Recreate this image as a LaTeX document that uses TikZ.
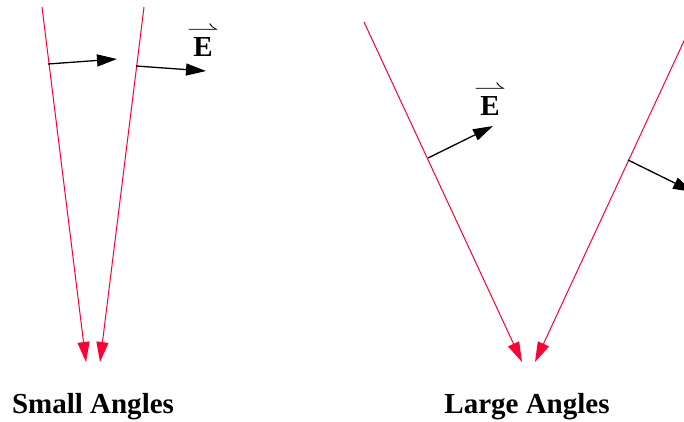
\documentclass[tikz,border=0pt]{standalone}
\usepackage{fontspec}
\setmainfont{Liberation Serif}
\usetikzlibrary{arrows.meta}
\definecolor{beamred}{RGB}{255,0,51}
\newcommand{\fieldE}{$\stackrel{\scalebox{1.6}[1.1]{$\scriptstyle\rightharpoonup$}}{\mbox{\bfseries E}}$}

\begin{document}
\begin{tikzpicture}[x=1pt, y=-1pt,
  ray/.style={beamred, line width=1pt, -{Triangle[length=20pt, width=12pt]}},
  field/.style={black, line width=1.3pt, -{Triangle[length=20pt, width=12pt]}},
  label/.style={font=\fontsize{29}{32}\selectfont\bfseries, anchor=base, inner sep=0pt},
]
\useasboundingbox (0,0) rectangle (684,421);
\clip (0,0) rectangle (684,421);

% === SMALL ANGLES ===
\coordinate (s1a) at (42,7);
\coordinate (s1b) at (86,362);
\coordinate (s2a) at (144,7);
\coordinate (s2b) at (100,362);
\draw[ray] (s1a) -- (s1b);
\draw[ray] (s2a) -- (s2b);

\coordinate (e1a) at (48,64);
\coordinate (e1b) at (117,59);
\coordinate (e2a) at (136,66);
\coordinate (e2b) at (206,71);
\draw[field] (e1a) -- (e1b);
\draw[field] (e2a) -- (e2b);

\node[label] (Esmall) at (203,56) {\fieldE};
\node[label] (small) at (93,413) {Small Angles};

% === LARGE ANGLES ===
\coordinate (l1a) at (364,22);
\coordinate (l1b) at (522,362);
\coordinate (l2a) at (703,0);
\coordinate (l2b) at (535,362);
\draw[ray] (l1a) -- (l1b);
\draw[ray] (l2a) -- (l2b);

\coordinate (f1a) at (428,158);
\coordinate (f1b) at (493,126);
\coordinate (f2a) at (628,160);
\coordinate (f2b) at (693,192);
\draw[field] (f1a) -- (f1b);
\draw[field] (f2a) -- (f2b);

\node[label] (Elarge) at (490,115) {\fieldE};
\node[label] (large) at (527,413) {Large Angles};
\end{tikzpicture}
\end{document}
